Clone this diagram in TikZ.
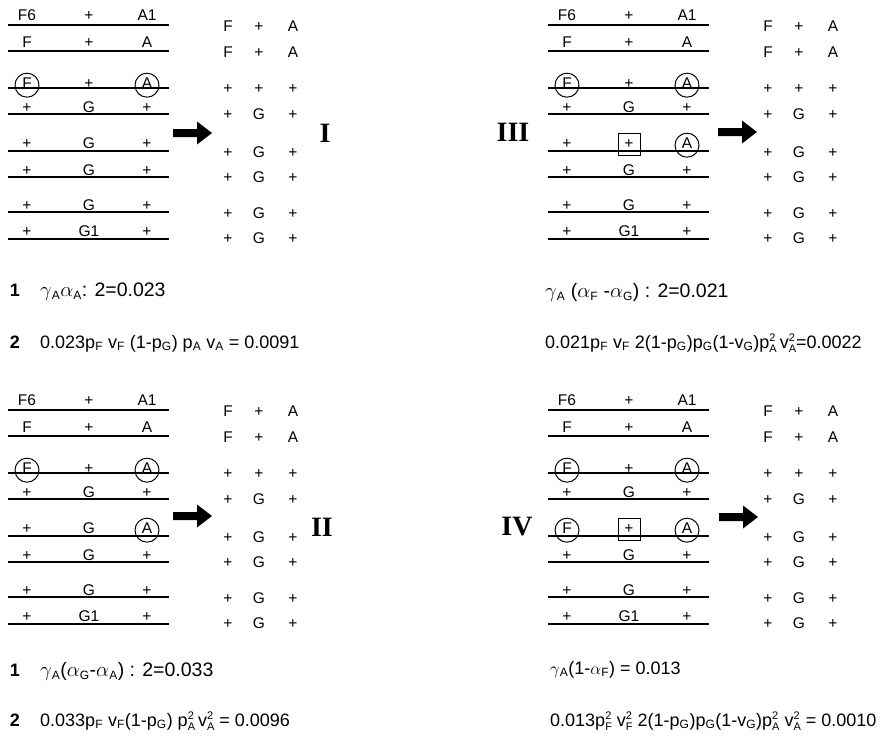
\documentclass[tikz,border=0pt]{standalone}
\usepackage{fontspec}
\setmainfont{Liberation Sans}
\newfontfamily\romfont{Liberation Serif}
\newcommand\dn[1]{$_{\hbox{\fontsize{12}{12}\selectfont #1}}$}
\newcommand\ud[2]{\leavevmode\rlap{\raisebox{7pt}{\fontsize{11}{11}\selectfont #1}}\raisebox{-4.5pt}{\fontsize{11}{11}\selectfont #2}}
\tikzset{
 lab/.style={anchor=base, inner sep=0pt, font=\fontsize{15.5}{15.5}\selectfont},
 thk/.style={line width=2.7pt},
 thn/.style={line width=1.1pt},
 circ/.style={draw, circle, line width=1pt, minimum size=24pt, inner sep=0pt},
 sq/.style={draw, line width=1pt, minimum size=22pt, inner sep=0pt},
 roman/.style={font=\romfont\bfseries\fontsize{28}{28}\selectfont, inner sep=0pt},
 frm/.style={anchor=base west, inner sep=0pt, font=\fontsize{18}{18}\selectfont},
 frmA/.style={frm, font=\fontsize{19.5}{19.5}\selectfont},
 num/.style={anchor=base, inner sep=0pt, font=\bfseries\fontsize{18}{18}\selectfont},
}
% left chromosome row: prefix, y centre, three labels
\newcommand\lrow[5]{%
  \node[lab] (#1a) at (27,#2+5.5) {#3};
  \node[lab] (#1b) at (89,#2+5.5) {#4};
  \node[lab] (#1c) at (147,#2+5.5) {#5};
}
% right column of genotypes
\newcommand\rightcol[1]{%
  \foreach \yy/\aa/\bb/\cc [count=\i] in {26/F/+/A, 52/F/+/A, 88/+/+/+, 114/+/G/+, 152/+/G/+, 177/+/G/+, 213/+/G/+, 238/+/G/+}{
    \node[lab] (#1r\i a) at (228,\yy+5.5) {\aa};
    \node[lab] (#1r\i b) at (259,\yy+5.5) {\bb};
    \node[lab] (#1r\i c) at (293,\yy+5.5) {\cc};
  }
}
% common chromosome lines and rows (except row 5)
\newcommand\common[1]{%
  \draw[thk] (8,25) -- (169,25);
  \draw[thk] (8,51) -- (169,51);
  \draw[thk] (8,88) -- (169,88);
  \draw[thn] (8,114) -- (169,114);
  \draw[thn] (8,177) -- (169,177);
  \draw[thn] (8,212) -- (169,212);
  \draw[thn] (8,239) -- (169,239);
  \lrow{#1l1}{15}{F6}{+}{A1}
  \lrow{#1l2}{42}{F}{+}{A}
  \lrow{#1l3}{83}{F}{+}{A}
  \node[circ] at ([yshift=-2pt]#1l3a.center) {};
  \node[circ] at ([yshift=-2pt]#1l3c.center) {};
  \lrow{#1l4}{107}{+}{G}{+}
  \lrow{#1l6}{170}{+}{G}{+}
  \lrow{#1l7}{205}{+}{G}{+}
  \lrow{#1l8}{231}{+}{G1}{+}
  \rightcol{#1}
}
\newcommand\bigarrow[2]{%
  \fill (#1,#2-4) -- (#1+24,#2-4) -- (#1+24,#2-11.5) -- (#1+39,#2) -- (#1+24,#2+11.5) -- (#1+24,#2+4) -- (#1,#2+4) -- cycle;
}
\begin{document}
\begin{tikzpicture}[x=1pt,y=-1pt]
\fill[white] (0,0) rectangle (881,740);
\useasboundingbox (0,0) rectangle (881,740);

% Panel I
\begin{scope}
  \common{I}
  \draw[thn] (8,151) -- (169,151);
  \lrow{Il5}{143}{+}{G}{+}
  \bigarrow{173}{133}
\end{scope}

% Panel II
\begin{scope}[yshift=-385pt]
  \common{II}
  \draw[thn] (8,151) -- (113,151);
  \draw[thk] (113,151) -- (169,151);
  \lrow{IIl5}{143}{+}{G}{A}
  \node[circ] at ([yshift=-2pt]IIl5c.center) {};
  \bigarrow{173}{131}
\end{scope}

% Panel III
\begin{scope}[xshift=540pt]
  \common{III}
  \draw[thn] (8,151) -- (63,151);
  \draw[thk] (63,151) -- (169,151);
  \lrow{IIIl5}{143}{+}{+}{A}
  \node[sq] at (IIIl5b.center) {};
  \node[circ] at ([yshift=-2pt]IIIl5c.center) {};
  \bigarrow{178}{132}
\end{scope}

% Panel IV
\begin{scope}[xshift=540pt, yshift=-385pt]
  \common{IV}
  \draw[thk] (8,151) -- (169,151);
  \lrow{IVl5}{143}{F}{+}{A}
  \node[circ] at ([yshift=-2pt]IVl5a.center) {};
  \node[sq] at (IVl5b.center) {};
  \node[circ] at ([yshift=-2pt]IVl5c.center) {};
  \bigarrow{179}{132}
\end{scope}

% roman numerals
\node[roman] (rI) at (325,133) {I};
\node[roman] (rII) at (322,527) {II};
\node[roman] (rIII) at (513,132) {III};
\node[roman] (rIV) at (517,527) {IV};

% formulas
\node[num] (n1a) at (15,296) {1};
\node[frmA] (fI1) at (40,296) {$\gamma$\dn{A}$\alpha$\dn{A}: 2=0.023};
\node[num] (n2a) at (15,348) {2};
\node[frm] (fI2) at (40,348) {0.023p\dn{F} v\dn{F} (1-p\dn{G}) p\dn{A} v\dn{A} = 0.0091};

\node[frmA] (fIII1) at (545,297) {$\gamma$\dn{A} ($\alpha$\dn{F} -$\alpha$\dn{G}) : 2=0.021};
\node[frm] (fIII2) at (545,348) {0.021p\dn{F} v\dn{F} 2(1-p\dn{G})p\dn{G}(1-v\dn{G})p\ud{2}{A}\,v\ud{2}{A}=0.0022};

\node[num] (n1b) at (15,676) {1};
\node[frmA] (fII1) at (40,676) {$\gamma$\dn{A}($\alpha$\dn{G}-$\alpha$\dn{A}) : 2=0.033};
\node[num] (n2b) at (15,726) {2};
\node[frm] (fII2) at (40,726) {0.033p\dn{F} v\dn{F}(1-p\dn{G}) p\ud{2}{A}\,v\ud{2}{A} = 0.0096};

\node[frm] (fIV1) at (550,674) {$\gamma$\dn{A}(1-$\alpha$\dn{F}) = 0.013};
\node[frm] (fIV2) at (550,726) {0.013p\ud{2}{F} v\ud{2}{F} 2(1-p\dn{G})p\dn{G}(1-v\dn{G})p\ud{2}{A} v\ud{2}{A} = 0.0010};
\end{tikzpicture}
\end{document}
